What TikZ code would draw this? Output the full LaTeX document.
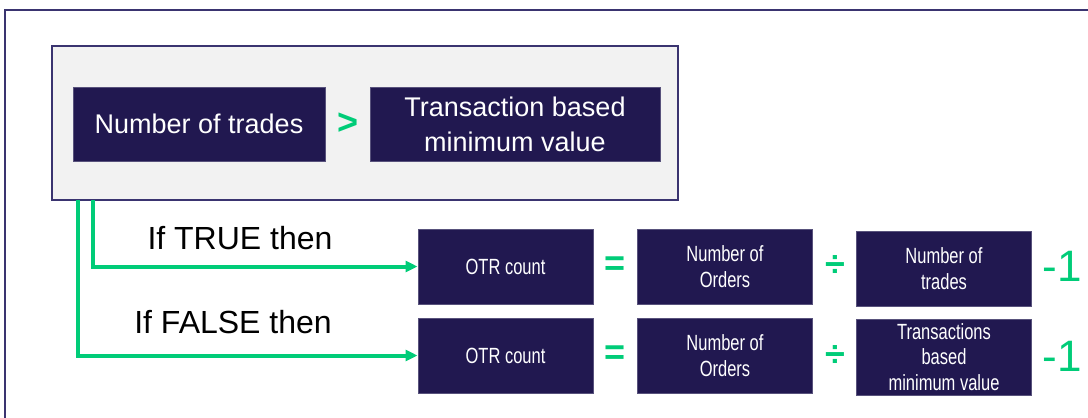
\documentclass[tikz,border=0pt]{standalone}
\usepackage{fontspec}
\setmainfont{Liberation Sans}
\newfontfamily\narrowfont{Liberation Sans}[FakeStretch=0.75]
\usetikzlibrary{arrows.meta}
\definecolor{navy}{HTML}{211850}
\definecolor{mint}{HTML}{00CC78}
\definecolor{frameline}{HTML}{3A3470}
\definecolor{panel}{HTML}{F2F2F2}

\begin{document}
\begin{tikzpicture}[x=0.5pt,y=-0.5pt,
	term/.style={rectangle, fill=navy, draw=navy!75!white, line width=0.5pt, text=white, align=center, inner sep=0pt},
	bigterm/.style={term, minimum height=37pt, font=\fontsize{13.5}{17.5}\selectfont},
	smallterm/.style={term, minimum width=87.5pt, minimum height=37.5pt, font=\narrowfont\fontsize{11}{12.8}\selectfont},
	op/.style={text=mint, inner sep=0pt, font=\bfseries\fontsize{18}{18}\selectfont},
	minus/.style={text=mint, inner sep=0pt, font=\fontsize{22}{22}\selectfont},
	branch/.style={line width=2pt, draw=mint, -{Triangle[length=6pt,width=5.5pt]}},
	cond/.style={inner sep=0pt, font=\fontsize{16}{16}\selectfont},
	]
	\useasboundingbox (0,0) rectangle (1088,418);
	% outer frame
	\draw[frameline, line width=1pt] (5,418) |- (1088,10);
	
	% condition
	\node[draw=frameline, fill=panel, line width=1pt, minimum width=313pt, minimum height=77pt] (panel) at (365,123) {};
	\node[bigterm, minimum width=126pt] (ntrades) at (199,124) {Number of trades};
	\node[op] (gt) at (348,124) {>};
	\node[bigterm, minimum width=145pt] (tbmv) at (515,124) {Transaction based\\minimum value};
	
	% TRUE row
	\node[smallterm] (otr1) at (505.5,266.5) {OTR count};
	\node[op] (eq1) at (615,266) {=};
	\node[smallterm] (ord1) at (725,266.5) {Number of\\Orders};
	\node[op] (div1) at (835,266) {÷};
	\node[smallterm] (nt1) at (944,268.5) {Number of\\trades};
	\node[minus] (m1) at (1062,266) {-1};
	
	% FALSE row
	\node[smallterm] (otr2) at (505.5,355.5) {OTR count};
	\node[op] (eq2) at (615,355) {=};
	\node[smallterm] (ord2) at (725,355.5) {Number of\\Orders};
	\node[op] (div2) at (835,356) {÷};
	\node[smallterm, minimum height=38pt] (tb2) at (944,357) {Transactions\\based\\minimum value};
	\node[minus] (m2) at (1062,356) {-1};
	
	% branches
	\coordinate (t0) at (93,200);
	\coordinate (f0) at (78,200);
	\draw[branch] (t0) |- (otr1.west);
	\draw[branch] (f0) |- (otr2.west);
	\node[cond] (iftrue) at (240,238) {If TRUE then};
	\node[cond] (iffalse) at (233,322) {If FALSE then};
\end{tikzpicture}
\end{document}
